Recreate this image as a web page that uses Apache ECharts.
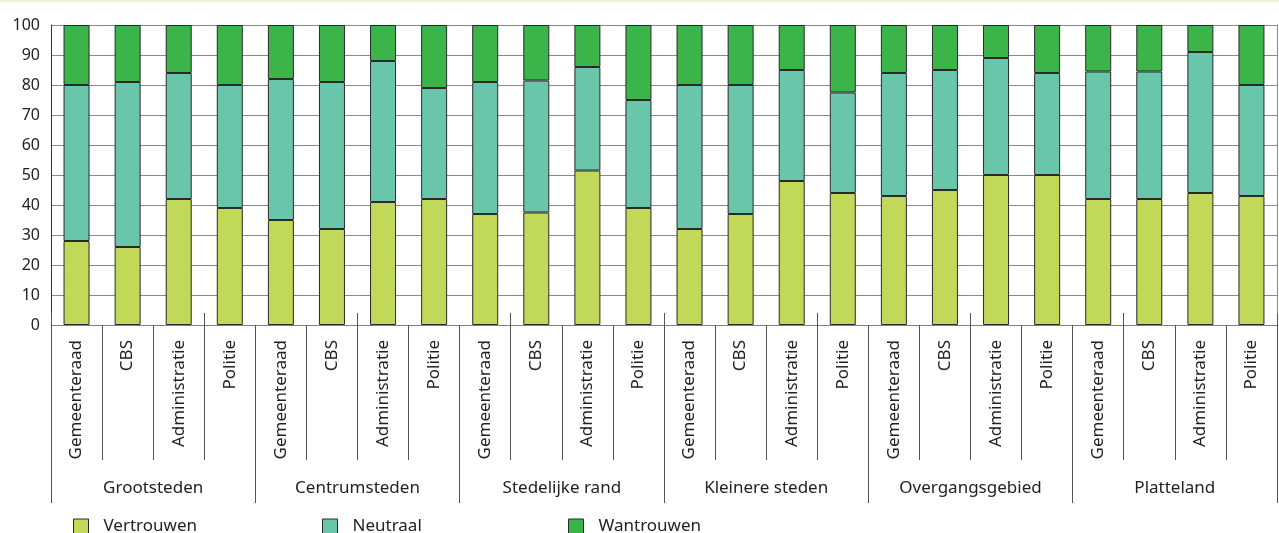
<!DOCTYPE html>
<html>
<head>
<meta charset="utf-8">
<script src="https://cdn.jsdelivr.net/npm/echarts@6/dist/echarts.min.js"></script>
<style>
html,body{margin:0;padding:0;background:#fff;}
#c{width:1279px;height:533px;}
#topline{position:absolute;left:0;top:0;width:1279px;height:2px;background:#eef3d6;}
</style>
</head>
<body>
<div id="c"></div>
<div id="topline"></div>
<script>
const groups = ['Grootsteden','Centrumsteden','Stedelijke rand','Kleinere steden','Overgangsgebied','Platteland'];
const institutions = ['Gemeenteraad','CBS','Administratie','Politie'];
const categories = [];
groups.forEach(function(){ institutions.forEach(function(i){ categories.push(i); }); });
const seriesNames = ['Vertrouwen','Neutraal','Wantrouwen'];
const vertrouwen = [28,26,42,39, 35,32,41,42, 37,37.5,51.5,39, 32,37,48,44, 43,45,50,50, 42,42,44,43];
const neutraal   = [52,55,42,41, 47,49,47,37, 44,44,34.5,36, 48,43,37,33.5, 41,40,39,34, 42.5,42.5,47,37];
const wantrouwen = [20,19,16,20, 18,19,12,21, 19,18.5,14,25, 20,20,15,22.5, 16,15,11,16, 15.5,15.5,9,20];
const yTicks = [0,10,20,30,40,50,60,70,80,90,100];
const colors = ['#c2d858','#6ac6aa','#3bb44a'];

const font = 'Noto Sans';
const chart = echarts.init(document.getElementById('c'), null, {renderer:'canvas'});
function mkSeries(name, data, idx){
  return {
    name: name, type: 'bar', stack: 'total', data: data, barWidth: 26,
    xAxisIndex: 0, yAxisIndex: 0,
    itemStyle: {color: colors[idx], borderColor: '#2a2a2a', borderWidth: 1},
    emphasis: {disabled: true}
  };
}
function mkLegend(name, left){
  return {
    data: [name], left: left, top: 518, icon: 'rect', itemWidth: 15, itemHeight: 15,
    itemGap: 0,
    itemStyle: {borderColor: '#2a2a2a', borderWidth: 1},
    textStyle: {fontFamily: font, fontSize: 17, color: '#222', padding: [0,0,0,10]},
    padding: 0
  };
}
chart.setOption({
  animation: false,
  color: colors,
  grid: {left: 51, right: 2, top: 25, bottom: 208, containLabel: false},
  legend: [mkLegend('Vertrouwen', 73), mkLegend('Neutraal', 322), mkLegend('Wantrouwen', 568)],
  xAxis: [
    {
      type: 'category', data: categories, position: 'bottom',
      axisLine: {show: true, lineStyle: {color: '#808080', width: 1}},
      axisTick: {show: true, length: 135, lineStyle: {color: '#555', width: 1}},
      axisLabel: {interval: 0, rotate: 90, margin: 15, fontFamily: font, fontSize: 17, color: '#222'},
      splitLine: {show: false}
    },
    {
      type: 'category', data: groups, position: 'bottom',
      axisLine: {show: false},
      axisTick: {show: true, length: 178, lineStyle: {color: '#555', width: 1}},
      axisLabel: {interval: 0, margin: 155, fontFamily: font, fontSize: 17, color: '#222'},
      splitLine: {show: false}
    },
    {
      type: 'category', data: categories, position: 'bottom',
      axisLine: {show: false},
      axisTick: {show: true, inside: true, length: 12, lineStyle: {color: '#555', width: 1}},
      axisLabel: {show: false},
      splitLine: {show: false}
    }
  ],
  yAxis: [
    {
      type: 'value', min: 0, max: 100, interval: 10,
      axisLine: {show: true, lineStyle: {color: '#333', width: 1}},
      axisTick: {show: false},
      axisLabel: {margin: 11, fontFamily: font, fontSize: 16, color: '#222',
        formatter: function(v){ return yTicks.indexOf(v) >= 0 ? String(v) : ''; }},
      splitLine: {show: true, lineStyle: {color: '#8a8a8a', width: 1}}
    },
    {
      type: 'value', min: 0, max: 100, interval: 10, position: 'right',
      axisLine: {show: true, lineStyle: {color: '#8a8a8a', width: 1}},
      axisTick: {show: false}, axisLabel: {show: false}, splitLine: {show: false}
    }
  ],
  series: [
    mkSeries('Vertrouwen', vertrouwen, 0),
    mkSeries('Neutraal', neutraal, 1),
    mkSeries('Wantrouwen', wantrouwen, 2)
  ]
});
</script>
</body>
</html>
